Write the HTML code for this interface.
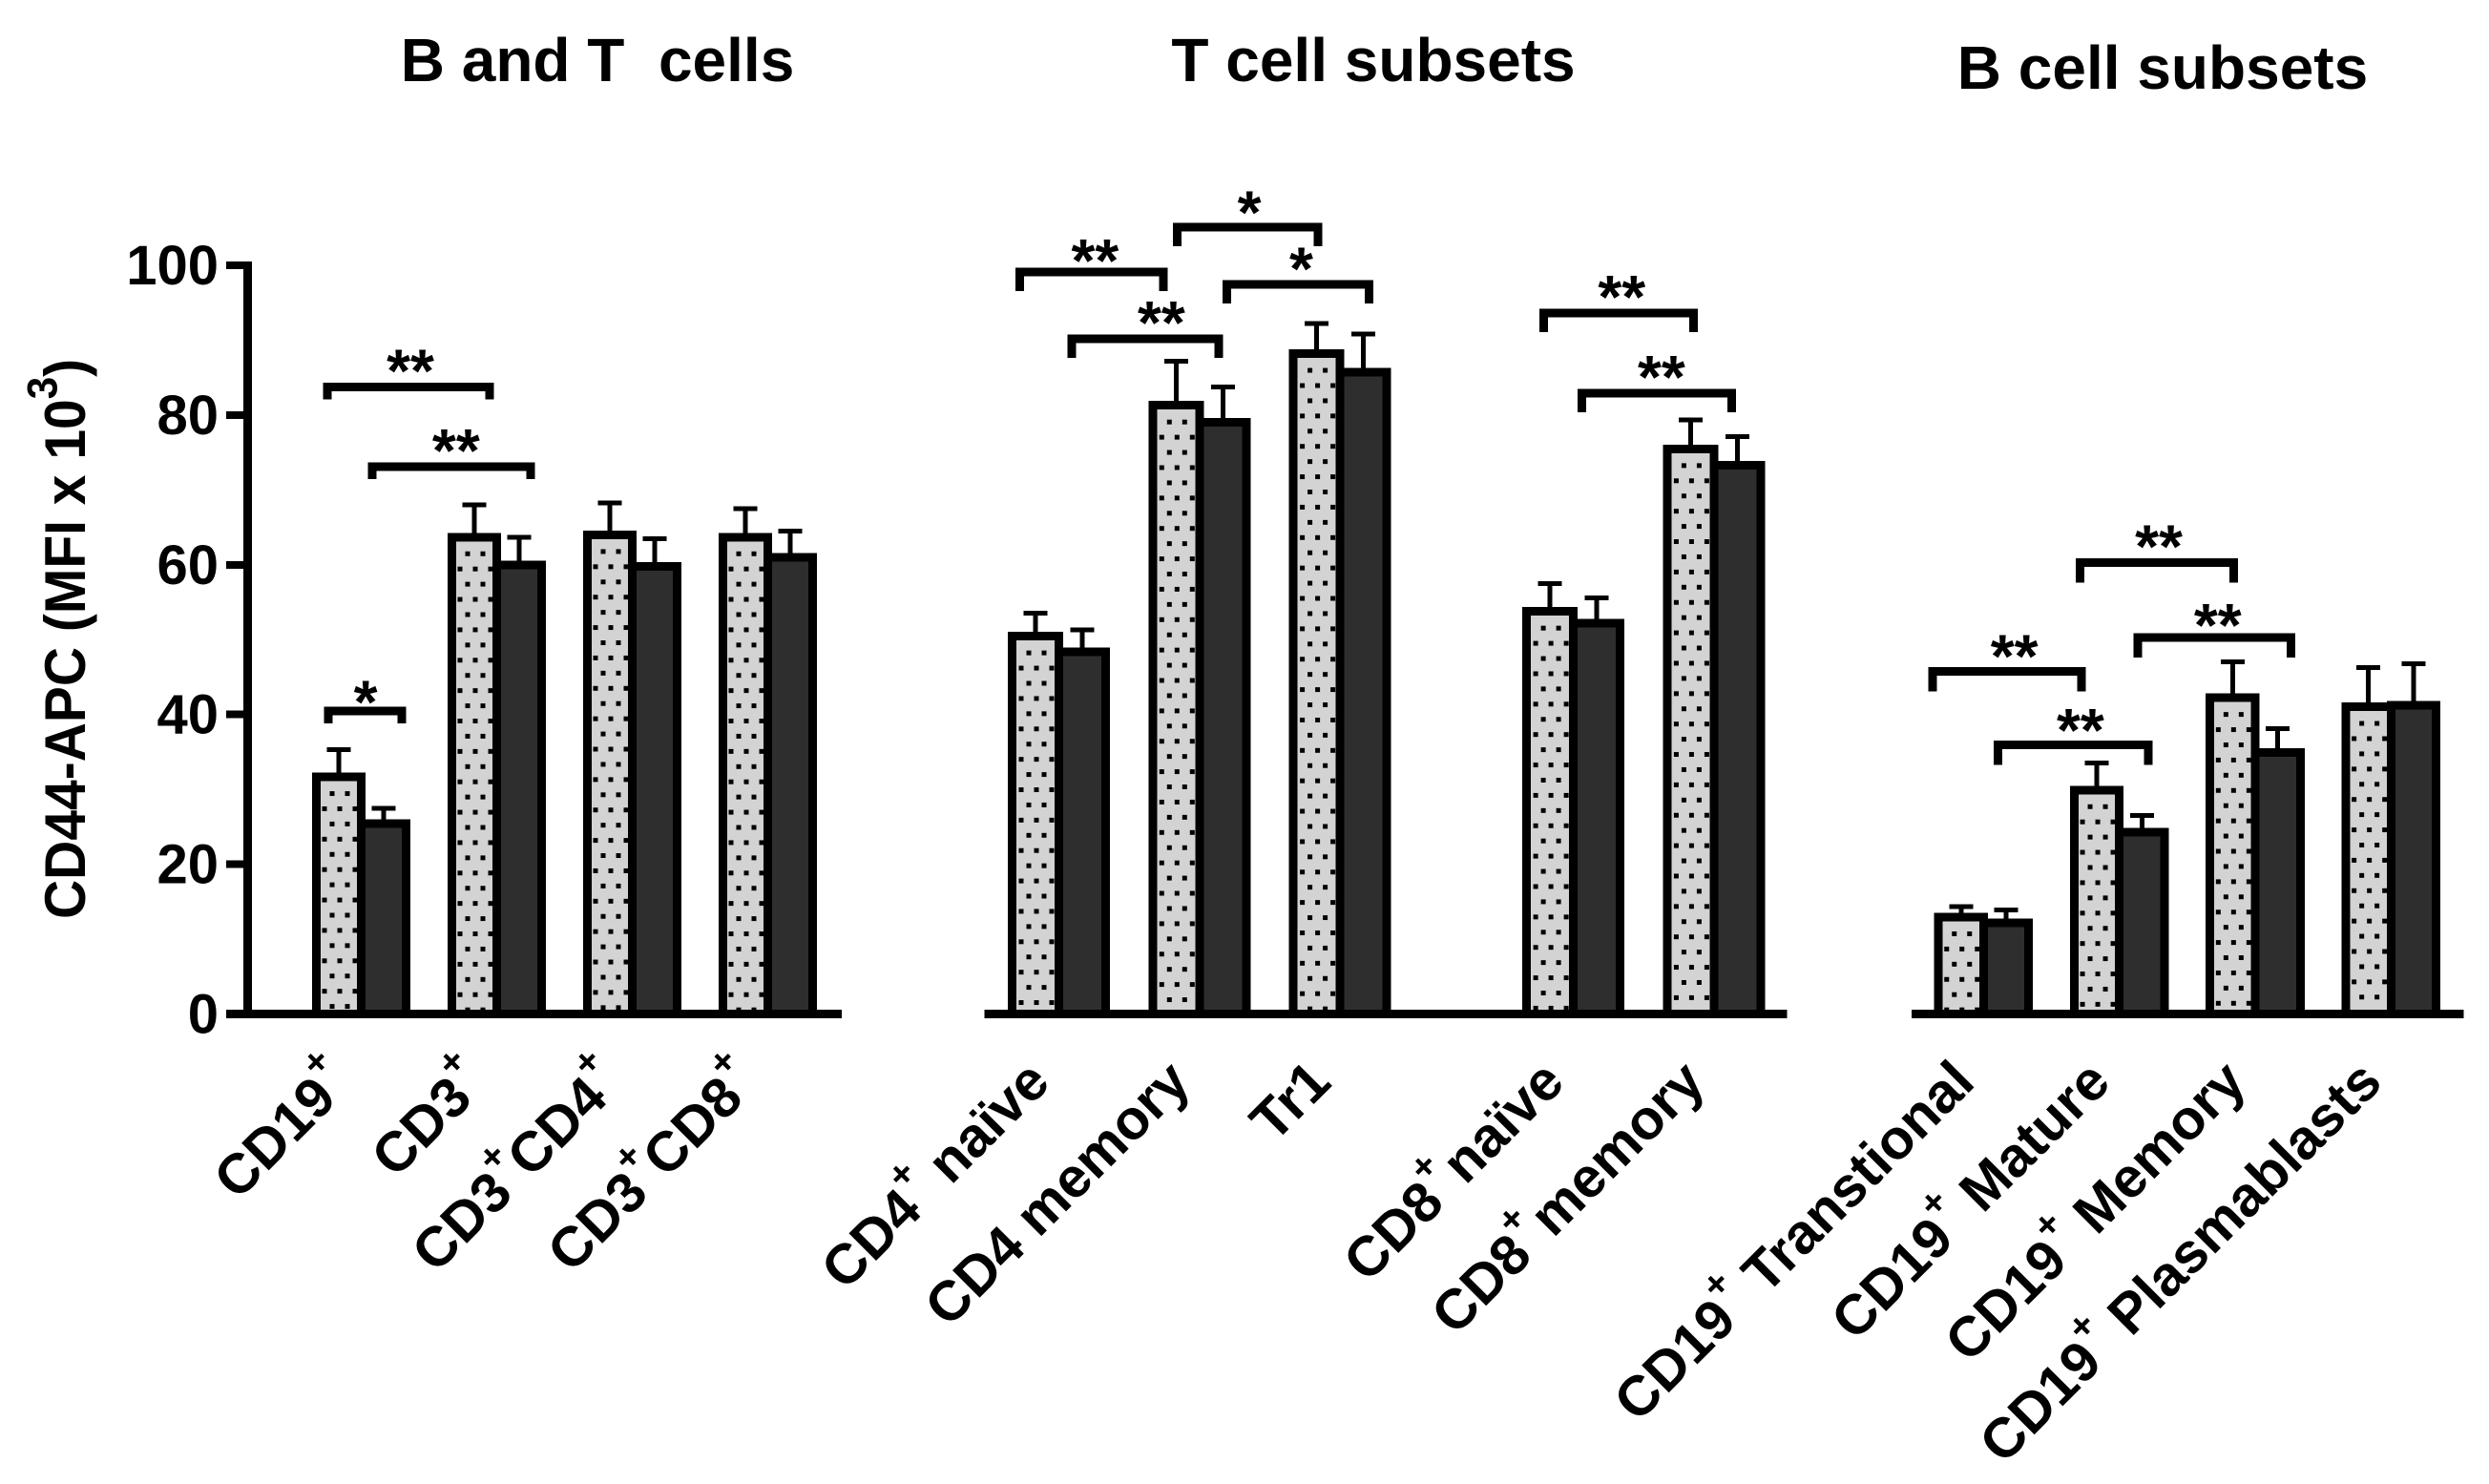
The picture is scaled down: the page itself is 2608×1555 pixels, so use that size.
<!DOCTYPE html>
<html lang="en">
<head>
<meta charset="utf-8">
<title>CD44-APC expression in B and T cell subsets</title>
<style>
html,body{margin:0;padding:0;background:#fff;}
svg{display:block;}
rect,line,path{shape-rendering:crispEdges;}
text{font-family:"Liberation Sans",Arial,sans-serif;font-weight:bold;fill:#000;white-space:pre;}
</style>
</head>
<body>
<svg id="chart" xmlns="http://www.w3.org/2000/svg" width="2608" height="1555" viewBox="0 0 2608 1555">
  <rect x="0" y="0" width="2608" height="1555" fill="#ffffff"/>
  <defs id="defs"></defs>
  <text x="626" y="85" font-size="64" text-anchor="middle" xml:space="preserve">B and T  cells</text>
  <text x="1439" y="85" font-size="64" text-anchor="middle">T cell subsets</text>
  <text x="2266" y="93" font-size="64" text-anchor="middle">B cell subsets</text>
  <text transform="translate(89,963) rotate(-90) scale(1,1.05)" font-size="57">CD44-APC (MFI x 10<tspan font-size="42" dy="-28">3</tspan><tspan dy="28">)</tspan></text>
</svg>
<script>
/* ---------- Shared axis data ---------- */
var yTicks = [0, 20, 40, 60, 80, 100];

/* ---------- Panel 1: B and T cells ---------- */
var p1Categories = ['CD19+', 'CD3+', 'CD3+CD4+', 'CD3+CD8+'];
var p1Light = [31.67, 63.7, 64.0, 63.7];
var p1Dark = [25.4, 60.0, 59.8, 61.0];
var p1LightErr = [3.65, 4.3, 4.25, 3.8];
var p1DarkErr = [2.1, 3.7, 3.7, 3.5];
var p1BracketFrom = [-0.25, 0.081, -0.243];
var p1BracketTo = [0.947, 1.25, 0.30];
var p1BracketLevel = [83.75, 73.12, 40.44];
var p1BracketStars = ['**', '**', '*'];
var p1StarShift = [0, 0.02, -0.01];
var p1StarLift = [0, 0, -0.9];

/* ---------- Panel 2: T cell subsets ---------- */
var p2Categories = ['CD4+ naïve', 'CD4 memory', 'Tr1', 'CD8+\u200Anaïve', 'CD8+\u200Amemory'];
var p2Light = [50.46, 81.3, 88.2, 53.77, 75.48];
var p2Dark = [48.36, 79.04, 85.75, 52.17, 73.3];
var p2LightErr = [3.1, 5.9, 4.05, 3.7, 3.85];
var p2DarkErr = [2.95, 4.7, 5.1, 3.4, 3.8];
var p2BracketFrom = [-0.277, 0.093, 0.841, 1.196, 3.448, 3.721];
var p2BracketTo = [0.744, 1.138, 1.842, 2.205, 4.513, 4.785];
var p2BracketLevel = [99.08, 90.16, 105.1, 97.48, 93.62, 82.94];
var p2BracketStars = ['**', '**', '*', '*', '**', '**'];
var p2StarShift = [0.01, 0.1, 0, 0.01, 0.01, 0.02];
var p2StarLift = [-0.6, 0, -0.2, -0.1, 0, 0];

/* ---------- Panel 3: B cell subsets ---------- */
var p3Categories = ['CD19+ Transtional', 'CD19+ Mature', 'CD19+ Memory', 'CD19+ Plasmablasts'];
var p3Light = [12.94, 29.92, 42.24, 41.04];
var p3Dark = [12.17, 24.3, 34.93, 41.24];
var p3LightErr = [1.43, 3.6, 4.8, 5.2];
var p3DarkErr = [1.7, 2.2, 3.2, 5.55];
var p3BracketFrom = [0.709, 1.136, -0.377, 0.106];
var p3BracketTo = [1.843, 2.265, 0.722, 1.212];
var p3BracketLevel = [60.29, 50.26, 45.75, 35.93];
var p3BracketStars = ['**', '**', '**', '**'];
var p3StarShift = [0, 0.01, 0.04, 0.04];
var p3StarLift = [0, -0.5, -0.1, -0.2];

var NS = 'http://www.w3.org/2000/svg';
var svg = document.getElementById('chart');
var defs = document.getElementById('defs');

function make(tag, attrs, parent) {
  var e = document.createElementNS(NS, tag);
  for (var k in attrs) { e.setAttribute(k, attrs[k]); }
  (parent || svg).appendChild(e);
  return e;
}

/* y axis function: value to pixel */
function yScale(v) { return 1062.5 - v * 7.845; }

var patternCount = 0;

function drawDotPattern(cx, top) {
  var rowGap = 15.93;
  var colGap = 16;
  var dot = 5;
  var id = 'dots-' + (patternCount++);
  var firstRow = top + 4.5 + 13;
  var p = make('pattern', {
    id: id,
    patternUnits: 'userSpaceOnUse',
    x: cx - 11,
    y: firstRow - rowGap / 2,
    width: colGap,
    height: rowGap * 2
  }, defs);
  make('rect', { x: colGap / 4 - dot / 2, y: rowGap / 2 - dot / 2, width: dot, height: dot, fill: '#000' }, p);
  make('rect', { x: 3 * colGap / 4 - dot / 2, y: 3 * rowGap / 2 - dot / 2, width: dot, height: dot, fill: '#000' }, p);
  return id;
}

function drawError(cx, value, err, g, name) {
  var yTop = yScale(value + err);
  var yBar = yScale(value);
  var stem = make('line', { x1: cx, x2: cx, y1: yBar, y2: yTop, stroke: '#000', 'stroke-width': 5 }, g);
  
  
  var cap = make('line', { x1: cx - 12.5, x2: cx + 12.5, y1: yTop, y2: yTop, stroke: '#000', 'stroke-width': 5 }, g);
  
  
}

function drawBar(left, width, value, fill, g, name) {
  var top = yScale(value);
  var bar = make('rect', {
    x: left, y: top, width: width, height: yScale(0) - top,
    fill: fill, stroke: '#000', 'stroke-width': 9
  }, g);
  
  
  return bar;
}

function drawCategoryLabel(label, x, y, g, name) {
  var t = make('text', {
    'font-size': 58.7,
    'text-anchor': 'end',
    transform: 'translate(' + x + ',' + y + ') rotate(-45)'
  }, g);
  
  
  var parts = label.split('+');
  var raised = false;
  parts.forEach(function (part, i) {
    if (part) {
      var s = make('tspan', raised ? { dy: 32 } : {}, t);
      s.textContent = part;
      raised = false;
    }
    if (i < parts.length - 1) {
      var sup = make('tspan', { 'font-size': 40, dy: -32 }, t);
      sup.textContent = '+';
      raised = true;
    }
  });
}

function drawBracket(from, to, level, stars, shift, lift, leg, xOf, g, name) {
  var xa = xOf(from);
  var xb = xOf(to);
  var y = yScale(level);
  var path = make('path', {
    d: 'M' + xa + ' ' + (y + leg) + 'V' + y + 'H' + xb + 'V' + (y + leg),
    fill: 'none', stroke: '#000', 'stroke-width': 9
  }, g);
  
  
  var t = make('text', {
    x: (xa + xb) / 2 + 2 + (xOf(shift) - xOf(0)),
    y: yScale(level + lift) + 5,
    'font-size': 64,
    'text-anchor': 'middle'
  }, g);
  
  
  t.textContent = stars;
}

function drawPanel(opt) {
  var g = make('g', {});
  
  
  var xOf = function (s) { return opt.x0 + opt.step * s; };
  var slot = function (i) { return i + (i >= opt.skipFrom ? opt.skip : 0); };

  opt.categories.forEach(function (cat, i) {
    var mid = xOf(slot(i));
    var w = opt.barWidth;
    var key = opt.name + '-' + i;
    drawError(mid - w / 2, opt.light[i], opt.lightErr[i], g, key + '-light');
    drawError(mid + w / 2, opt.dark[i], opt.darkErr[i], g, key + '-dark');
    drawBar(mid, w, opt.dark[i], '#2e2e2e', g, key + '-bar-dark');
    drawBar(mid - w, w, opt.light[i], '#d3d3d3', g, key + '-bar-light');
    var id = drawDotPattern(mid - w / 2, yScale(opt.light[i]));
    var dots = make('rect', {
      x: mid - w + 4.5,
      y: yScale(opt.light[i]) + 4.5,
      width: w - 9,
      height: yScale(0) - yScale(opt.light[i]) - 4.5,
      fill: 'url(#' + id + ')'
    }, g);
    
    
    drawCategoryLabel(cat, mid - 7, 1136.5, g, key + '-x-label');
  });

  var axis = make('line', {
    x1: opt.axisFrom, x2: opt.axisTo, y1: yScale(0), y2: yScale(0),
    stroke: '#000', 'stroke-width': 9
  }, g);
  
  

  opt.bracketFrom.forEach(function (from, i) {
    drawBracket(from, opt.bracketTo[i], opt.bracketLevel[i], opt.bracketStars[i], opt.starShift[i], opt.starLift[i], opt.leg, xOf, g, opt.name + '-bracket-' + i);
  });
}

/* y axis */
var yAxis = make('line', { x1: 259.5, x2: 259.5, y1: yScale(100) - 4, y2: yScale(0) + 4, stroke: '#000', 'stroke-width': 9 });


yTicks.forEach(function (v) {
  var tick = make('line', { x1: 237, x2: 259, y1: yScale(v), y2: yScale(v), stroke: '#000', 'stroke-width': 8 });
  
  
  var label = make('text', { x: 229, y: yScale(v) + 20, 'font-size': 58, 'text-anchor': 'end' });
  
  
  label.textContent = v;
});

drawPanel({
  name: 'panel-b-and-t-cells', x0: 378.5, step: 142, skipFrom: 99, skip: 0, barWidth: 47, leg: 13,
  axisFrom: 237, axisTo: 882,
  categories: p1Categories, light: p1Light, dark: p1Dark, lightErr: p1LightErr, darkErr: p1DarkErr,
  bracketFrom: p1BracketFrom, bracketTo: p1BracketTo, bracketLevel: p1BracketLevel, bracketStars: p1BracketStars,
  starShift: p1StarShift, starLift: p1StarLift
});
drawPanel({
  name: 'panel-t-cell-subsets', x0: 1109.5, step: 147.3, skipFrom: 3, skip: 0.66, barWidth: 49, leg: 20,
  axisFrom: 1031.6, axisTo: 1872.5,
  categories: p2Categories, light: p2Light, dark: p2Dark, lightErr: p2LightErr, darkErr: p2DarkErr,
  bracketFrom: p2BracketFrom, bracketTo: p2BracketTo, bracketLevel: p2BracketLevel, bracketStars: p2BracketStars,
  starShift: p2StarShift, starLift: p2StarLift
});
drawPanel({
  name: 'panel-b-cell-subsets', x0: 2078.4, step: 142.3, skipFrom: 99, skip: 0, barWidth: 47.3, leg: 21,
  axisFrom: 2003, axisTo: 2581.5,
  categories: p3Categories, light: p3Light, dark: p3Dark, lightErr: p3LightErr, darkErr: p3DarkErr,
  bracketFrom: p3BracketFrom, bracketTo: p3BracketTo, bracketLevel: p3BracketLevel, bracketStars: p3BracketStars,
  starShift: p3StarShift, starLift: p3StarLift
});
</script>
</body>
</html>
